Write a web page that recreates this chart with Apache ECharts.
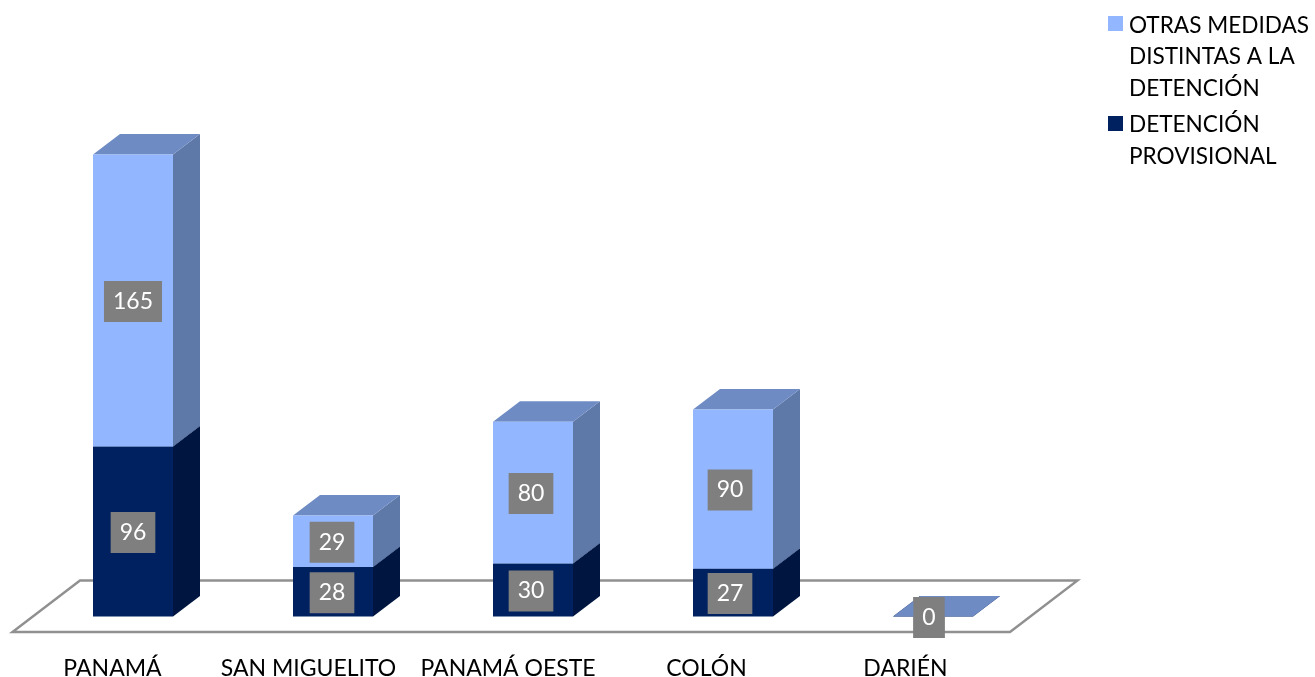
<!DOCTYPE html>
<html>
<head>
<meta charset="utf-8">
<style>html,body{margin:0;padding:0;background:#fff}#c{width:1315px;height:677px}</style>
<script src="https://cdn.jsdelivr.net/npm/echarts@6/dist/echarts.min.js"></script>
</head>
<body>
<div id="c"></div>
<script>
const categories = ['PANAMÁ', 'SAN MIGUELITO', 'PANAMÁ OESTE', 'COLÓN', 'DARIÉN'];
const detencion = [96, 28, 30, 27, 0];
const otras = [165, 29, 80, 90, 0];
const nameOtras = 'OTRAS MEDIDAS\nDISTINTAS A LA\nDETENCIÓN';
const nameDetencion = 'DETENCIÓN\nPROVISIONAL';

const labelShift = [41, 49, 50, 53, 55];
const labelDrift = 1;
const depthX = 27, depthY = 20.5;
const FONT = 'Lato';

const palette = {
  otras: { front: '#92B6FF', side: '#5E78A8', top: '#6F8BC4' },
  detencion: { front: '#00215F', side: '#00153F', top: '#001A4C' }
};

function boxRenderer(colors) {
  return function (params, api) {
    const i = api.value(0);
    const low = api.coord([i, api.value(1)]);
    const high = api.coord([i, api.value(2)]);
    const w = api.size([1, 0])[0] * 0.4;
    const l = low[0] - w / 2, r = low[0] + w / 2;
    const y0 = low[1], y1 = high[1];
    return {
      type: 'group',
      children: [
        { type: 'polygon', shape: { points: [[r, y0], [r + depthX, y0 - depthY], [r + depthX, y1 - depthY], [r, y1]] }, style: { fill: colors.side } },
        { type: 'polygon', shape: { points: [[l, y1], [r, y1], [r + depthX, y1 - depthY], [l + depthX, y1 - depthY]] }, style: { fill: colors.top } },
        { type: 'rect', shape: { x: l, y: y1, width: w, height: y0 - y1 }, style: { fill: colors.front } },
        {
          type: 'text', z2: 10,
          style: {
            x: low[0] - i * labelDrift, y: (y0 + y1) / 2 + 1,
            text: String(api.value(2) - api.value(1)),
            fill: '#fff', font: '23px ' + FONT,
            align: 'center', verticalAlign: 'middle',
            backgroundColor: '#7F7F7F', padding: [9, 9, 9, 9]
          }
        }
      ]
    };
  };
}

function floorRenderer(params, api) {
  const cs = params.coordSys;
  const p = api.coord([0, 0]);
  const left = cs.x, right = cs.x + cs.width, base = p[1];
  return {
    type: 'polygon',
    shape: { points: [[left - 20.5, base + 15.5], [left + 47, base - 36], [right + 44.5, base - 36], [right - 23, base + 15.5]] },
    style: { fill: 'rgba(0,0,0,0)', stroke: '#909090', lineWidth: 2.4 }
  };
}

const rich = {};
labelShift.forEach((s, i) => {
  rich['c' + i] = { padding: [0, s, 0, 0], fontFamily: FONT, fontSize: 23, color: '#000' };
});

const chart = echarts.init(document.getElementById('c'), null, { renderer: 'canvas' });
chart.setOption({
  animation: false,
  backgroundColor: '#fff',
  grid: { left: 33, width: 1000, top: 85.5, bottom: 60.5, outerBoundsMode: 'none' },
  xAxis: {
    type: 'category', data: categories,
    axisLine: { show: false }, axisTick: { show: false }, splitLine: { show: false },
    axisLabel: {
      interval: 0, margin: 41, hideOverlap: false,
      formatter: (v, i) => '{c' + i + '|' + v + '}',
      rich
    }
  },
  yAxis: { type: 'value', min: 0, max: 300, show: false },
  legend: [
    {
      left: 1108, top: 9, padding: 0, orient: 'vertical', itemWidth: 16, itemHeight: 96,
      selectedMode: false,
      textStyle: { fontFamily: FONT, fontSize: 22.6, lineHeight: 31.5, color: '#000' },
      data: [{ name: nameOtras, icon: 'path://M0 7H15V22H0ZM0 0L0 0ZM16 96L16 96Z', itemStyle: { color: palette.otras.front } }]
    },
    {
      left: 1108, top: 109, padding: 0, orient: 'vertical', itemWidth: 16, itemHeight: 63,
      selectedMode: false,
      textStyle: { fontFamily: FONT, fontSize: 22.6, lineHeight: 31.5, color: '#000' },
      data: [{ name: nameDetencion, icon: 'path://M0 7H15V22H0ZM0 0L0 0ZM16 63L16 63Z', itemStyle: { color: palette.detencion.front } }]
    }
  ],
  series: [
    {
      type: 'custom', name: 'suelo', z: 1, silent: true, clip: false,
      renderItem: floorRenderer, data: [[0, 0]], encode: { x: 0, y: 1 }
    },
    {
      type: 'custom', name: nameDetencion, z: 2, clip: false,
      renderItem: boxRenderer(palette.detencion),
      itemStyle: { color: palette.detencion.front },
      encode: { x: 0, y: [1, 2] },
      data: detencion.map((v, i) => [i, 0, v])
    },
    {
      type: 'custom', name: nameOtras, z: 3, clip: false,
      renderItem: boxRenderer(palette.otras),
      itemStyle: { color: palette.otras.front },
      encode: { x: 0, y: [1, 2] },
      data: otras.map((v, i) => [i, detencion[i], detencion[i] + v])
    }
  ]
});
</script>
</body>
</html>
